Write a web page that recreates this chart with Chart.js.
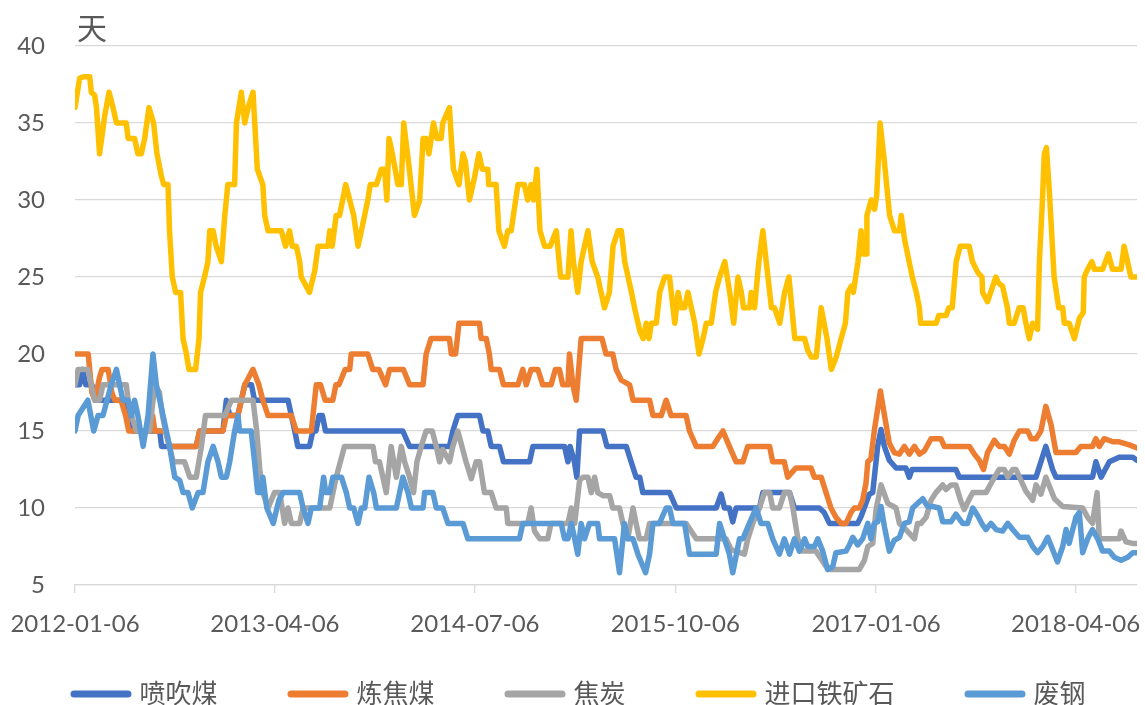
<!DOCTYPE html>
<html lang="zh-CN">
<head>
<meta charset="utf-8">
<title>库存可用天数</title>
<script src="https://cdn.jsdelivr.net/npm/chart.js@4.4.1/dist/chart.umd.min.js"></script>
<style>
  html, body { margin: 0; padding: 0; background: #fff; }
  #wrap { width: 1145px; height: 705px; }
</style>
</head>
<body>
<div id="wrap"><canvas id="stockDays" width="1145" height="705"></canvas></div>
<script>
// ---- data: [weeks after startDate, days of stock] ----
const startDate = '2012-01-06';
const lastWeek = 346;
const tickDates = ['2012-01-06', '2013-04-06', '2014-07-06', '2015-10-06', '2017-01-06', '2018-04-06'];
const yMin = 5, yMax = 40, yStep = 5;
const unitLabel = '天';
const seriesNames = ['喷吹煤', '炼焦煤', '焦炭', '进口铁矿石', '废钢'];

const pciCoal = [
  [0,18],[1.5,18],[2.5,19],[3.5,18],[5.5,18],[6.5,17],[16,17],[17,16],[18.4,16],[19,15],[27.6,15],[28.2,14],
  [39.5,14],[40.6,15],[48.2,15],[49.3,17],[50.4,16],[53,16],[54.2,17],[55.3,18],[57.5,18],[58.5,17],[69.4,17],
  [70.5,16],[71.6,15],[72.6,14],[76.4,14],[77.5,15],[78.5,15],[79.5,16],[80.6,16],[81.6,15],[106.8,15],[109,14],
  [122,14],[123.1,15],[124.7,16],[131.8,16],[132.9,15],[134.5,15],[135.6,14],[138.3,14],[139.6,13],[148.1,13],
  [149.2,14],[159.5,14],[160.6,13],[161.3,14],[162.7,13],[163.5,12],[164.4,15],[172,15],[173.3,14],[179.6,14],
  [181.2,13],[182.8,12],[184,12],[185,11],[193.7,11],[195.9,10],[208.9,10],[210.5,10.9],[211.6,10],[213.2,10],
  [214.3,9.1],[215.4,10],[223,10],[224.1,11],[232.8,11],[234.4,10],[242.5,10],[244.1,9.7],[245.8,9],[255,9],
  [256.1,9.45],[258.8,10.9],[259.9,11],[261.5,14],[262.6,15.1],[263.7,14],[265.3,13.1],[267.5,12.6],[270.7,12.6],
  [271.8,12],[272.7,12.5],[287,12.5],[288.1,12],[313.1,12],[316.3,14],[318.5,12.5],[319.6,12],[331.5,12],
  [332.6,13],[334.3,12],[337,13],[340.2,13.3],[344.6,13.3],[346,13.1]
];

const cokingCoal = [
  [0,20],[4.3,20],[5.5,17.5],[6.5,17],[8,18.5],[8.8,19],[10.8,19],[12,17.5],[13,17],[15,17],[16.5,16],[17.5,15],
  [24.5,15],[25.3,16],[26,15],[29.5,15],[30.8,14],[39.5,14],[40.6,15],[48.2,15],[49.3,16],[53.1,16],[55.3,18],
  [58,19],[59.9,18],[61.2,17],[62.9,16],[70.5,16],[72.1,15],[77,15],[78.6,18],[80,18],[81.5,17],[84,17],[85,18],
  [86,18],[88,19],[89.5,19],[90,20],[95.4,20],[97,19],[99,19],[101.2,18],[102.5,19],[107,19],[109,18],[113.4,18],
  [114.4,20],[116,21],[122,21],[122.6,20],[124,20],[125.1,22],[131.8,22],[132.3,21],[134,21],[135,20],[135.6,19],
  [138.3,19],[139.6,18],[144.3,18],[145.9,19],[147,18],[148.6,19],[150.8,19],[152.4,18],[155.1,18],[156.5,19],
  [157.8,19],[158.9,18],[160.6,18],[161.1,20],[162.2,18],[163.3,17],[164.9,21],[171.7,21],[173,20],[175.2,20],
  [176.3,19],[178,18.3],[180.7,18],[181.8,17],[187.2,17],[188.3,16],[191,16],[192.6,17],[194.2,16],[199.1,16],
  [200.2,15],[202.4,14],[207.8,14],[209.4,14.5],[211.1,15],[213.2,14],[215.4,13],[217.6,13],[219.2,14],[226.3,14],
  [227.3,13],[231.1,13],[232.2,12],[234.9,12.6],[239.8,12.6],[240.9,12],[243.1,12],[244.7,11],[246.3,10],
  [247.9,9.4],[249.6,9],[251.2,9],[252.8,9.7],[253.9,10],[255.5,10],[256.6,10.5],[257.7,11.6],[258.3,13],
  [259.3,13.2],[260.4,15],[262.4,17.6],[264,15.7],[265.3,14.2],[266.9,13.6],[268.6,13.5],[270.2,14],[271.8,13.5],
  [273.5,14],[275.1,13.5],[276.7,13.7],[278.9,14.5],[282.1,14.5],[283.2,14],[291.4,14],[293,13.5],[294.6,13.1],
  [296,12.5],[297.3,13.6],[299.5,14.4],[301.1,14],[302.8,14],[304.4,13.5],[306,14.4],[307.7,15],[310.4,15],
  [311.5,14.5],[313.1,14.5],[314.7,15],[316.3,16.6],[318,15.4],[319.6,13.6],[326.1,13.6],[327.7,14],[331.5,14],
  [332.6,14.5],[333.7,14],[335.3,14.5],[338.1,14.3],[340.2,14.3],[343.5,14.1],[346,13.9]
];

const coke = [
  [0,18],[1,19],[4.2,19],[5.3,18],[6.4,17],[8,17],[9.1,18],[16.7,18],[17.3,17],[18.4,16],[20,15],[24.3,15],
  [26,18],[27.5,17.5],[28.5,16],[29.5,15],[30.8,14],[32,13],[35.7,13],[37.4,12],[39.5,12],[41.2,14],[42.5,16],
  [48.8,16],[51,17],[58,17],[59.2,15],[60.2,12.5],[61.2,11],[62.9,10],[65,11],[66.7,11],[68.3,9],[69.4,10],
  [70.5,9],[73.2,9],[74.3,10],[83,10],[85.1,12],[87.8,14],[97.1,14],[97.9,13],[99.2,13],[100.3,12],[101.4,11],
  [103,14],[104.7,12],[106.3,14],[107.4,13],[109,12],[110.3,11],[111.4,13],[112.8,14],[114.4,15],[116.4,15],
  [117.7,14],[118.8,13],[119.8,13.8],[122,13],[123.1,14],[124.7,15],[127.4,13],[129.1,11.9],[130.7,13],
  [131.8,13],[133.4,11],[135.6,11],[137.2,10],[140.5,10],[141,9],[147.5,9],[148.6,10],[149.7,8.5],[151.4,8],
  [154,8],[155.1,9],[160.6,9],[161.7,10],[162.8,9],[164.4,11.8],[165.5,12],[167.1,12],[168.2,11],[169.3,12],
  [170.3,11],[172,10.8],[174.2,10.8],[175.2,10],[177.4,10],[178.5,9],[180.1,8],[181.8,10],[182.8,9],[183.9,8],
  [186.1,8],[187.2,9],[199.1,9],[202.4,8],[212.1,8],[213.8,7.3],[218.1,7],[219.2,8],[220.8,9],[223,10],
  [224.6,11],[226.3,11],[227.3,10],[229.5,10],[231.1,11],[232.8,11],[233.9,10],[235.5,8],[237.1,7.2],[241.4,7.2],
  [244.7,6.2],[246.3,6],[255.5,6],[257.2,6.6],[258.3,7.5],[259.9,7.7],[261,9.9],[262.6,11.5],[264.8,10.3],
  [267.5,10],[268.6,9],[270.7,8.6],[273.5,8],[274.5,9],[275.6,9],[277.3,9.4],[278.9,10.5],[280.5,11],[282.7,11.5],
  [283.8,11.2],[285.4,11.5],[287,11.5],[288.5,10.5],[289.7,9.9],[291.4,10.6],[292.5,11],[296.8,11],[299,11.8],
  [301.1,12.5],[302.8,12.5],[303.9,12],[305.5,12.5],[306.6,12.5],[307.7,12],[309.8,11.1],[312,10.5],[313.1,11.5],
  [314.7,10.9],[316.3,12],[319.1,10.6],[321.8,10.1],[328.3,10],[329.9,9.4],[331.5,9],[333,11],[333.7,8],
  [340.2,8],[340.8,8.5],[342.4,7.8],[344.6,7.7],[346,7.7]
];

const ironOre = [
  [0,36],[1.5,37.9],[2.8,38],[4.8,38],[5.3,37],[6.4,36.8],[7,36],[8,33],[9.7,35.5],[11.1,37],[12.4,36],[13.5,35],
  [16.7,35],[17.3,34],[19.4,34],[20.5,33],[21.6,33],[22.7,34],[24.1,36],[25.6,35],[26.7,33],[28.1,31.6],[28.9,31],
  [30.3,31],[30.8,28],[31.7,25],[32.8,24],[34.4,24],[35.2,21],[36.3,20],[37.1,19],[39.3,19],[40.4,21],[40.9,24],
  [42.2,25],[43.3,26],[43.9,28],[45,28],[46,27],[47.7,26],[48.8,29],[49.8,31],[52,31],[52.6,35],[54.2,37],
  [55.3,35],[56.4,36],[58,37],[59.4,32],[61.2,31],[61.8,29],[62.9,28],[67.2,28],[68.6,27],[69.9,28],[70.8,27],
  [72.1,27],[73.2,26],[73.7,25],[76.4,24],[78.1,25.4],[79.2,27],[82.4,27],[83,28],[83.8,27],[85.1,29],[86.2,29],
  [88.2,31],[89.5,30],[90.8,29],[92.2,27],[93.3,28],[95.4,30],[96.2,31],[98.2,31],[99.8,32],[100.9,32],[101.6,30],
  [102.3,34],[103.4,33],[105.2,31],[106.3,31],[107.1,35],[108.8,32.2],[110.6,29],[112.3,30],[113.4,34],[114.4,34],
  [115.3,33],[116.8,35],[117.9,34],[119.3,34],[119.8,35],[122,36],[122.6,34],[123.3,32],[125.1,31],[126.4,33],
  [127.2,32.5],[128.5,30],[130.2,31.5],[131.6,33],[132.7,32],[134.5,32],[134.8,31],[137.2,31],[138.1,28],
  [139.9,27],[141,28],[142.1,28],[144.3,31],[146.4,31],[147.5,30],[148.6,31],[149.4,30],[150.5,32],[151.5,28],
  [153,27],[154.8,27],[156.8,28],[158.2,25],[160.6,25],[161.6,28],[162.4,26],[163.8,24],[164.9,26],[167.1,28],
  [168.5,26],[170.3,25],[171.4,24],[172.5,23],[174.1,24],[175.3,27],[176.9,28],[178,28],[179.1,26],[181.3,24],
  [182.3,23],[184,21.5],[185.1,21],[186.1,22],[187,21],[187.8,22],[189.4,22],[190.5,24],[192.1,25],[193.7,25],
  [195.4,22],[196.5,24],[197.5,23],[198.6,23],[199.7,24],[200.8,23],[201.9,22],[203.3,20],[204.6,21],[205.7,22],
  [207.3,22],[208.7,24],[210,25],[211.7,26],[213.3,24],[214.6,22],[216,25],[217.1,24],[217.8,23],[219.8,23],
  [220.3,24],[221.4,23],[222.8,26],[224.1,28],[225.2,26],[226.9,23],[227.9,23],[229.6,22],[231.2,24],[232.6,25],
  [234.5,21],[235.8,21],[237.7,21],[238.8,20.2],[239.9,19.8],[241.5,19.8],[243.1,23],[245,21],[246.4,19],
  [248,19.8],[249.6,21],[251,22],[251.8,24],[252.9,24.4],[253.6,24],[255.1,26],[256.1,28],[256.7,26.5],
  [257.8,26.5],[258,29],[259.4,30],[260.5,29.4],[261.2,30.3],[262.3,35],[263.7,32.5],[265.4,29],[267,28],
  [268.6,28],[269.2,29],[270.3,27.4],[272.8,25],[274.1,24],[275.1,23],[275.5,22],[280.6,22],[281.4,22.5],
  [283.8,22.5],[284.7,23],[285.8,23],[287.1,26],[288.4,27],[291.3,27],[292.4,26],[294.1,25.3],[295.5,25],
  [295.7,24],[297.3,23.4],[299,24.4],[300,25],[300.9,24.6],[302.2,24.4],[303.8,23],[304.4,22],[306,22],
  [307.6,23],[308.9,23],[309.8,22],[310.9,21],[312,22],[313.6,21.6],[314.2,26],[315.2,30],[315.8,33],[316.5,33.4],
  [317.4,30.7],[319,25],[320.5,23],[321.8,23],[322.3,22],[323.9,22],[325.6,21],[327.2,22.3],[328.5,22.7],
  [328.8,25],[329.9,25.5],[331.3,26],[332.1,25.5],[334.8,25.5],[336.7,26.5],[338,25.5],[340.8,25.5],[341.8,27],
  [342.9,26],[344,25],[346,25]
];

const scrapSteel = [
  [0,15],[1,16],[4.2,17],[6.1,15],[7.5,16],[9.1,16],[11.8,18],[13.5,19],[15.6,17],[17.3,17],[18.4,16],[19.4,17],
  [20.5,16],[22.2,14],[23.8,16],[25.4,20],[26.5,18],[28.7,16],[30.8,14],[32.5,12],[34.1,11.8],[35.2,11],[36.8,11],
  [38.2,10],[40.1,11],[41.7,11],[43.3,13],[45,14],[46.6,13],[47.7,12],[49.3,12],[50.4,13],[52,15],[53.1,16],
  [53.6,15],[57.4,15],[58.5,13],[59.5,11],[60.7,11],[61.2,12],[62.5,10],[64.6,9],[66.4,10.5],[67.8,11],[73.2,11],
  [74.3,10],[75.9,9],[77,10],[79.7,10],[81,12],[81.7,11],[83,11],[84,12],[86.8,12],[88.4,11],[89.5,10],[90.8,10],
  [92.2,9],[93.3,10],[94.4,10],[95.8,12],[97.3,11],[98.2,10],[104.7,10],[106.8,12],[108.5,11],[109.6,10],
  [113.4,10],[113.9,11],[116.6,11],[117.7,10],[119.8,10],[121.5,9],[126.4,9],[128,8],[144.8,8],[145.9,9],
  [158.4,9],[159.5,8],[160.6,8],[161.7,9],[162.8,8],[163.8,7],[164.9,9],[166,8],[167.6,9],[170.3,9],[170.9,8],
  [175.8,8],[177.4,5.8],[179,9],[180.1,8],[181.8,8],[183.4,7],[185.9,5.8],[187.2,7],[188.3,9],[190.4,9],
  [192.6,10],[193.7,10],[194.8,9],[198.6,9],[200.2,7],[208.9,7],[210,9],[211.6,8],[213.2,7],[214.3,5.8],
  [216.5,8],[217.6,8],[219.7,9],[221.9,10],[223.5,9],[225.7,9],[227.3,8],[229.5,7],[231.1,8],[232.8,7],
  [234.4,8],[236,7.2],[237.7,8],[238.7,7.5],[240.9,7.5],[242,8],[243.6,7.2],[245.2,6],[246.9,6.2],[247.9,7.1],
  [251.2,7.2],[252.3,7.6],[253.4,8.1],[255,7.6],[256.6,8],[258.3,9],[259.3,8],[260.4,9],[261.5,9.1],[262.6,10.1],
  [263.7,8.8],[265.3,7.2],[266.9,7.9],[268.6,8.1],[270.2,9],[271.8,9.1],[272.9,10],[274.5,10.3],[276.2,10.6],
  [277.8,10.1],[279.4,10.1],[281.6,10],[282.7,9.1],[285.4,9.1],[287,9.6],[289.2,9],[290.8,9],[292.5,10],
  [294.1,9.5],[295.7,8.9],[296.8,8.6],[298.4,9],[300.1,8.6],[302.2,8.5],[303.9,9],[305.5,8.6],[307.7,8.1],
  [310.4,8.1],[312,7.5],[313.6,7.1],[315.3,7.5],[316.9,8.1],[318.5,7.3],[320.1,6.5],[321.8,7.5],[322.9,8.6],
  [323.9,7.7],[326.1,9.4],[327.2,9.7],[328.3,7.1],[329.9,8],[331.5,8.6],[333.2,8],[334.8,7.2],[337,7.2],
  [338.6,6.8],[340.8,6.6],[343,6.8],[344.6,7.1],[346,7.1]
];

const seriesData = [pciCoal, cokingCoal, coke, ironOre, scrapSteel];
const seriesColors = ['#4472C4', '#ED7D31', '#A5A5A5', '#FFC000', '#5B9BD5'];

// ---- helpers ----
const DAY = 864e5;
const dayOffset = s => (Date.parse(s) - Date.parse(startDate)) / DAY;
const textColor = '#595959';
const gridColor = '#D9D9D9';
const numFont = 'Lato, "Noto Sans CJK SC", sans-serif';
const cjkFont = '"Noto Sans CJK SC", "Noto Sans", sans-serif';

const datasets = seriesNames.map((name, i) => ({
  label: name,
  data: seriesData[i].map(([w, v]) => ({x: w * 7, y: v})),
  borderColor: seriesColors[i],
  backgroundColor: seriesColors[i],
  borderWidth: 5.5,
  borderJoinStyle: 'round',
  borderCapStyle: 'round',
  pointRadius: 0,
  tension: 0,
  fill: false,
  order: seriesNames.length - i   // later series sit on top
}));

// unit label + bottom legend drawn straight on the canvas
const decor = {
  id: 'decor',
  afterDraw(chart) {
    const ctx = chart.ctx;
    ctx.save();
    ctx.fillStyle = textColor;
    ctx.textBaseline = 'middle';
    ctx.textAlign = 'left';
    ctx.font = '30px ' + cjkFont;
    ctx.fillText(unitLabel, chart.chartArea.left + 2, 28);

    ctx.font = '26px ' + cjkFont;
    const lineLen = 54, lw = 7, textGap = 8, itemGap = 70, cy = 693;
    const widths = seriesNames.map(n => ctx.measureText(n).width);
    const itemW = widths.map(w => lineLen + lw + textGap + w);
    const total = itemW.reduce((a, b) => a + b, 0) + itemGap * (seriesNames.length - 1);
    let x = 578 - total / 2;
    seriesNames.forEach((name, i) => {
      ctx.strokeStyle = seriesColors[i];
      ctx.lineWidth = lw;
      ctx.lineCap = 'round';
      ctx.beginPath();
      ctx.moveTo(x + lw / 2, cy + 1);
      ctx.lineTo(x + lw / 2 + lineLen, cy + 1);
      ctx.stroke();
      ctx.fillText(name, x + lineLen + lw + textGap, cy);
      x += itemW[i] + itemGap;
    });
    ctx.restore();
  }
};

new Chart(document.getElementById('stockDays'), {
  type: 'line',
  data: {datasets},
  options: {
    responsive: false,
    animation: false,
    devicePixelRatio: 1,
    parsing: false,
    layout: {padding: {top: 46, right: 8, left: 0, bottom: 0}},
    plugins: {
      legend: {display: false},
      tooltip: {enabled: false}
    },
    scales: {
      x: {
        type: 'linear',
        min: 0,
        max: lastWeek * 7,
        afterBuildTicks: s => { s.ticks = tickDates.map(d => ({value: dayOffset(d)})); },
        afterFit: s => { s.height = 120; s.paddingLeft = 0; s.paddingRight = 0; },
        ticks: {
          callback: (v, i) => tickDates[i],
          autoSkip: false,
          maxRotation: 0,
          padding: 17,
          color: textColor,
          font: {family: numFont, size: 24}
        },
        grid: {drawOnChartArea: false, tickLength: 8, color: gridColor, lineWidth: 1.3},
        border: {color: gridColor, width: 1.3}
      },
      y: {
        min: yMin,
        max: yMax,
        afterFit: s => { s.width = 75; },
        ticks: {
          stepSize: yStep,
          padding: 30,
          color: textColor,
          font: {family: numFont, size: 24}
        },
        grid: {color: gridColor, lineWidth: 1.3, drawTicks: false},
        border: {display: false}
      }
    }
  },
  plugins: [decor]
});
</script>
</body>
</html>
